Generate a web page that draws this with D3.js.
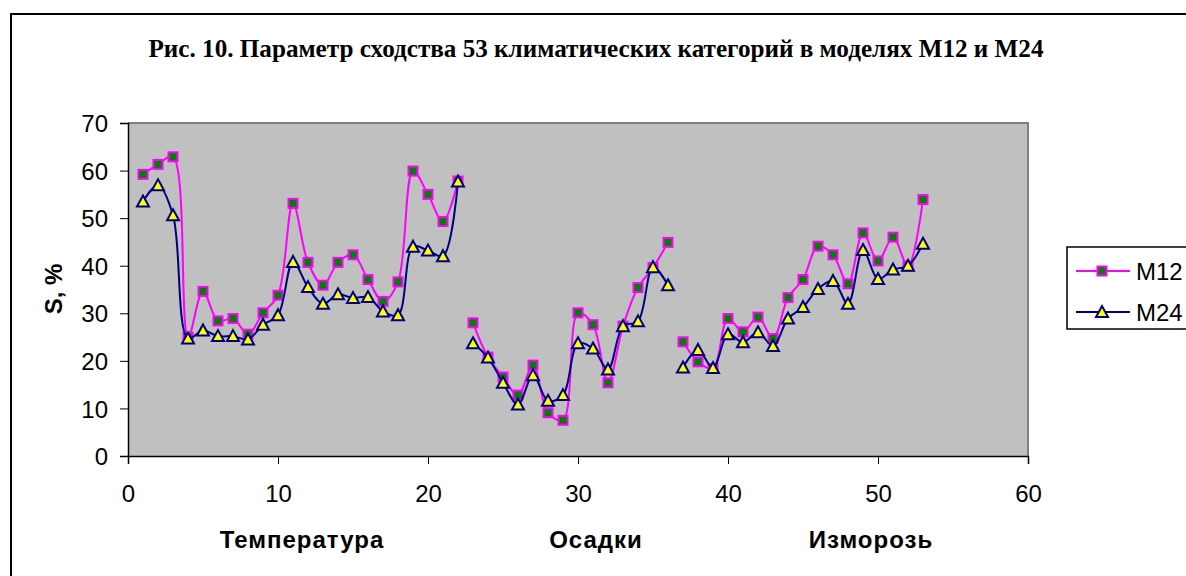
<!DOCTYPE html>
<html>
<head>
<meta charset="utf-8">
<script src="https://cdn.jsdelivr.net/npm/d3@7"></script>
<style>
  html, body { margin: 0; padding: 0; background: #fff; }
  svg { display: block; }
</style>
</head>
<body>
<svg id="chart" width="1186" height="576"></svg>
<script>
// Similarity parameter S (%) for 53 climatic categories, models M12 and M24.
const titleText = "Рис. 10. Параметр сходства 53 климатических категорий в моделях М12 и М24";
const seriesNames = ["M12", "M24"];
const groupNames = ["Температура", "Осадки", "Изморозь"];
const groupSizes = [22, 14, 17];

const m12 = [
  59.2, 61.3, 62.9, 25.0, 34.6, 28.4, 28.9, 25.6, 30.1, 33.8,
  53.1, 40.7, 35.9, 40.7, 42.3, 37.1, 32.5, 36.6, 59.9, 55.0,
  49.3, 57.8,
  28.0, 20.8, 16.6, 12.8, 19.1, 9.1, 7.5, 30.1, 27.6, 15.4,
  27.3, 35.4, 39.6, 44.9,
  24.0, 19.8, 18.4, 28.9, 26.1, 29.2, 24.7, 33.3, 37.1, 44.1,
  42.3, 36.2, 46.9, 41.0, 46.0, 39.9, 53.9
];
const m24 = [
  53.5, 56.9, 50.6, 24.7, 26.4, 25.2, 25.2, 24.5, 27.6, 29.6,
  40.8, 35.5, 32.0, 34.0, 33.2, 33.4, 30.4, 29.6, 44.0, 43.2,
  42.0, 57.7,
  23.7, 20.7, 15.4, 10.8, 17.0, 11.6, 12.8, 23.7, 22.6, 18.2,
  27.3, 28.3, 39.7, 35.9,
  18.6, 22.3, 18.5, 25.6, 23.9, 26.0, 23.1, 28.9, 31.3, 35.1,
  36.8, 32.0, 43.3, 37.2, 39.2, 40.0, 44.6
];
const xTicks = [0, 10, 20, 30, 40, 50, 60];
const yTicks = [0, 10, 20, 30, 40, 50, 60, 70];

const svg = d3.select("#chart");
const plot = { left: 128, right: 1028, top: 123, bottom: 456 };

const x = d3.scaleLinear().domain([0, 60]).range([plot.left, plot.right]);
const y = d3.scaleLinear().domain([0, 70]).range([plot.bottom, plot.top]);

// outer chart frame
svg.append("rect")
  .attr("x", 11).attr("y", 14).attr("width", 1186).attr("height", 580)
  .attr("fill", "#fff").attr("stroke", "#000").attr("stroke-width", 2);

// title (condensed bold serif)
svg.append("text")
  .attr("x", 596).attr("y", 57)
  .attr("text-anchor", "middle")
  .attr("font-family", "'Liberation Serif', 'Times New Roman', serif")
  .attr("font-weight", "bold")
  .attr("font-size", 26)
  .attr("textLength", 895)
  .attr("lengthAdjust", "spacingAndGlyphs")
  .text(titleText);

// plot area
svg.append("rect")
  .attr("x", plot.left).attr("y", plot.top)
  .attr("width", plot.right - plot.left).attr("height", plot.bottom - plot.top)
  .attr("fill", "#c0c0c0");
svg.append("path")
  .attr("d", `M${plot.left},${plot.top}H${plot.right}V${plot.bottom}`)
  .attr("fill", "none").attr("stroke", "#808080").attr("stroke-width", 2);

// axes
const fontSans = "'Liberation Sans', Arial, sans-serif";
const yAxis = svg.append("g")
  .attr("transform", `translate(${plot.left},0)`)
  .call(d3.axisLeft(y).tickValues(yTicks).tickSize(8).tickPadding(12).tickFormat(d3.format("d")));
const xAxis = svg.append("g")
  .attr("transform", `translate(0,${plot.bottom})`)
  .call(d3.axisBottom(x).tickValues(xTicks).tickSize(8).tickPadding(38).tickFormat(d3.format("d")));
[yAxis, xAxis].forEach(g => {
  g.select(".domain").attr("stroke", "#000").attr("stroke-width", 1.5);
  g.selectAll(".tick line").attr("stroke", "#000").attr("stroke-width", 1);
  g.selectAll(".tick text")
    .attr("font-family", fontSans).attr("font-size", 24).attr("fill", "#000");
});
xAxis.selectAll(".tick text").attr("dy", "0");
yAxis.selectAll(".tick text").attr("dy", "0.36em");

// y axis title
svg.append("text")
  .attr("transform", "translate(62,289) rotate(-90)")
  .attr("text-anchor", "middle")
  .attr("font-family", fontSans).attr("font-weight", "bold").attr("font-size", 24)
  .text("S, %");

// group names under the x axis
const groupLabelX = [302, 596, 871];
svg.selectAll("text.group")
  .data(groupNames)
  .join("text")
  .attr("class", "group")
  .attr("x", (d, i) => groupLabelX[i])
  .attr("y", 548)
  .attr("text-anchor", "middle")
  .attr("font-family", fontSans).attr("font-weight", "bold").attr("font-size", 24)
  .attr("letter-spacing", 1)
  .text(d => d);

// split a series into its category blocks (lines break between blocks)
function blocks(values) {
  const out = [];
  let s = 0;
  groupSizes.forEach(n => {
    out.push(values.slice(s, s + n).map((v, i) => ({ x: s + i + 1, y: v })));
    s += n;
  });
  return out;
}

const line = d3.line()
  .x(d => x(d.x)).y(d => y(d.y))
  .curve(d3.curveCatmullRom.alpha(0.5));

const styles = [
  { color: "#ff00ff", marker: "square", fill: "#008000" },
  { color: "#000080", marker: "triangle", fill: "#ffff00" }
];

function drawMarker(g, kind, cx, cy, st) {
  if (kind === "square") {
    g.append("rect")
      .attr("x", cx - 4.5).attr("y", cy - 4.5).attr("width", 9).attr("height", 9)
      .attr("fill", st.fill).attr("stroke", st.color).attr("stroke-width", 2);
  } else {
    g.append("path")
      .attr("d", `M${cx},${cy - 6}L${cx + 6},${cy + 5}L${cx - 6},${cy + 5}Z`)
      .attr("fill", st.fill).attr("stroke", st.color).attr("stroke-width", 2)
      .attr("stroke-linejoin", "miter");
  }
}

[m12, m24].forEach((vals, si) => {
  const st = styles[si];
  const g = svg.append("g");
  blocks(vals).forEach(seg => {
    g.append("path")
      .attr("d", line(seg))
      .attr("fill", "none").attr("stroke", st.color).attr("stroke-width", 2);
  });
  vals.forEach((v, i) => drawMarker(g, st.marker, x(i + 1), y(v), st));
});

// legend
const lg = svg.append("g");
lg.append("rect")
  .attr("x", 1067).attr("y", 247).attr("width", 140).attr("height", 82)
  .attr("fill", "#fff").attr("stroke", "#000").attr("stroke-width", 1.5);
seriesNames.forEach((name, i) => {
  const st = styles[i];
  const cy = 271 + i * 41;
  lg.append("line")
    .attr("x1", 1076).attr("x2", 1130).attr("y1", cy).attr("y2", cy)
    .attr("stroke", st.color).attr("stroke-width", 2);
  drawMarker(lg, st.marker, 1102, cy, st);
  lg.append("text")
    .attr("x", 1136).attr("y", cy).attr("dy", "0.36em")
    .attr("font-family", fontSans).attr("font-size", 24)
    .text(name);
});
</script>
</body>
</html>
